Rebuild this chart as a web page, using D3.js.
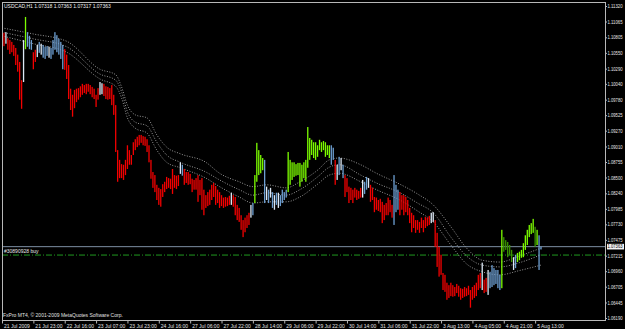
<!DOCTYPE html>
<html><head><meta charset="utf-8">
<script src="https://cdn.jsdelivr.net/npm/d3@7"></script>
<style>html,body{margin:0;padding:0;background:#000;} svg{display:block;}</style>
</head><body><svg id="c" width="625" height="329"></svg>
<script>
const symbolTitle = "USDCAD,H1  1.07318 1.07363 1.07317 1.07363";
const copyright = "FxPro MT4, \u00a9 2001-2009 MetaQuotes Software Corp.";
const timeLabels = ["21 Jul 2009","21 Jul 23:00","22 Jul 16:00","23 Jul 07:00","23 Jul 23:00","24 Jul 16:00","27 Jul 06:00","27 Jul 22:00","28 Jul 14:00","29 Jul 06:00","29 Jul 22:00","30 Jul 14:00","31 Jul 06:00","31 Jul 22:00","3 Aug 13:00","4 Aug 05:00","4 Aug 21:00","5 Aug 13:00"];
const timeLabelBar = [0,16,32,48,64,80,96,112,128,144,160,176,192,208,224,240,256,272];
const priceTicks = [1.11320,1.11065,1.10805,1.10550,1.10290,1.10040,1.09780,1.09525,1.09270,1.09010,1.08755,1.08500,1.08240,1.07985,1.07730,1.07475,1.07215,1.06960,1.06705,1.06445,1.06190];
const highs = [
1.1089,1.1088,1.1089,1.1079,1.1076,1.1073,1.1068,1.1063,1.1052,1.1040,
1.1010,1.1076,1.1114,1.1089,1.1083,1.1076,1.1056,1.1060,1.1068,1.1073,
1.1070,1.1068,1.1065,1.1066,1.1065,1.1063,1.1076,1.1089,1.1084,1.1078,
1.1073,1.1068,1.1061,1.1052,1.1035,1.0996,1.0986,1.0994,1.0996,1.0997,
1.1000,1.1004,1.1002,1.1004,1.1004,1.1002,1.0999,1.0996,1.0986,1.0997,
1.1007,1.1005,1.1004,1.1000,1.0999,1.0997,1.1002,1.0986,1.0969,1.0895,
1.0879,1.0872,1.0871,1.0879,1.0903,1.0895,1.0887,1.0908,1.0913,1.0917,
1.0920,1.0920,1.0918,1.0917,1.0913,1.0903,1.0879,1.0859,1.0854,1.0838,
1.0833,1.0831,1.0839,1.0843,1.0851,1.0849,1.0848,1.0864,1.0854,1.0853,
1.0854,1.0875,1.0871,1.0864,1.0859,1.0859,1.0856,1.0848,1.0846,1.0849,
1.0854,1.0846,1.0849,1.0830,1.0821,1.0826,1.0830,1.0838,1.0841,1.0836,
1.0830,1.0826,1.0821,1.0817,1.0818,1.0817,1.0820,1.0825,1.0821,1.0818,
1.0805,1.0800,1.0788,1.0780,1.0784,1.0788,1.0792,1.0805,1.0808,1.0854,
1.0907,1.0895,1.0887,1.0882,1.0879,1.0835,1.0830,1.0833,1.0826,1.0821,
1.0825,1.0825,1.0821,1.0830,1.0826,1.0830,1.0892,1.0879,1.0875,1.0875,
1.0872,1.0874,1.0874,1.0871,1.0875,1.0879,1.0933,1.0915,1.0912,1.0908,
1.0908,1.0903,1.0912,1.0908,1.0910,1.0908,1.0903,1.0903,1.0903,1.0899,
1.0879,1.0871,1.0884,1.0882,1.0871,1.0854,1.0849,1.0835,1.0833,1.0830,
1.0833,1.0830,1.0828,1.0833,1.0846,1.0843,1.0851,1.0849,1.0838,1.0833,
1.0818,1.0817,1.0813,1.0815,1.0810,1.0805,1.0808,1.0817,1.0813,1.0805,
1.0854,1.0838,1.0830,1.0826,1.0821,1.0821,1.0818,1.0813,1.0800,1.0792,
1.0788,1.0780,1.0780,1.0777,1.0784,1.0780,1.0785,1.0784,1.0787,1.0792,
1.0793,1.0780,1.0759,1.0736,1.0723,1.0693,1.0690,1.0677,1.0673,1.0677,
1.0673,1.0670,1.0675,1.0672,1.0668,1.0667,1.0670,1.0668,1.0672,1.0665,
1.0670,1.0673,1.0677,1.0690,1.0693,1.0710,1.0682,1.0685,1.0698,1.0695,
1.0706,1.0701,1.0698,1.0698,1.0690,1.0764,1.0752,1.0747,1.0744,1.0739,
1.0731,1.0719,1.0723,1.0726,1.0728,1.0731,1.0742,1.0755,1.0764,1.0772,
1.0775,1.0782,1.0769,1.0764,1.0755,1.07363];
const lows = [
1.1068,1.1066,1.1070,1.1060,1.1053,1.1056,1.1050,1.1035,1.1024,1.0978,
1.0963,1.1007,1.1061,1.1065,1.1061,1.1060,1.1028,1.1040,1.1048,1.1055,
1.1052,1.1047,1.1045,1.1050,1.1047,1.1045,1.1052,1.1060,1.1056,1.1052,
1.1045,1.1028,1.1027,1.1012,1.0979,1.0961,1.0950,1.0964,1.0974,1.0978,
1.0982,1.0986,1.0989,1.0987,1.0991,1.0987,1.0982,1.0979,1.0966,1.0978,
1.0986,1.0987,1.0984,1.0979,1.0978,1.0979,1.0969,1.0953,1.0892,1.0843,
1.0849,1.0849,1.0846,1.0854,1.0864,1.0871,1.0871,1.0887,1.0895,1.0900,
1.0903,1.0907,1.0903,1.0902,1.0892,1.0875,1.0848,1.0833,1.0826,1.0813,
1.0805,1.0802,1.0818,1.0826,1.0831,1.0833,1.0831,1.0823,1.0833,1.0831,
1.0836,1.0856,1.0853,1.0838,1.0841,1.0838,1.0839,1.0826,1.0830,1.0830,
1.0810,1.0821,1.0797,1.0788,1.0800,1.0803,1.0805,1.0813,1.0818,1.0805,
1.0808,1.0800,1.0803,1.0800,1.0802,1.0803,1.0805,1.0805,1.0802,1.0788,
1.0780,1.0777,1.0764,1.0752,1.0760,1.0767,1.0772,1.0784,1.0788,1.0808,
1.0843,1.0854,1.0857,1.0862,1.0808,1.0813,1.0808,1.0817,1.0800,1.0797,
1.0805,1.0800,1.0803,1.0808,1.0813,1.0817,1.0826,1.0838,1.0846,1.0851,
1.0853,1.0854,1.0835,1.0843,1.0849,1.0843,1.0866,1.0879,1.0887,1.0882,
1.0879,1.0884,1.0895,1.0892,1.0895,1.0884,1.0887,1.0882,1.0871,1.0879,
1.0838,1.0846,1.0854,1.0862,1.0849,1.0818,1.0826,1.0808,1.0813,1.0808,
1.0817,1.0813,1.0815,1.0817,1.0817,1.0823,1.0830,1.0833,1.0810,1.0813,
1.0793,1.0797,1.0795,1.0793,1.0775,1.0780,1.0788,1.0788,1.0793,1.0784,
1.0772,1.0793,1.0797,1.0788,1.0797,1.0788,1.0793,1.0788,1.0775,1.0760,
1.0767,1.0759,1.0764,1.0759,1.0767,1.0760,1.0767,1.0770,1.0772,1.0775,
1.0777,1.0736,1.0703,1.0687,1.0690,1.0665,1.0662,1.0649,1.0652,1.0655,
1.0654,1.0655,1.0660,1.0654,1.0649,1.0652,1.0654,1.0655,1.0657,1.0636,
1.0649,1.0652,1.0655,1.0665,1.0668,1.0665,1.0660,1.0662,1.0657,1.0668,
1.0670,1.0673,1.0675,1.0668,1.0665,1.0668,1.0728,1.0731,1.0719,1.0723,
1.0711,1.0698,1.0701,1.0711,1.0714,1.0718,1.0719,1.0731,1.0739,1.0752,
1.0757,1.0759,1.0736,1.0739,1.0698,1.07317];
// r = bearish red, b = light blue, w = white/pale, g = bright green, d = dark green
const barColorCodes = [
"wrwrrrrrrr","rwgbbbrrwb","wbbbwbbbbb","bbrrrrrrrr","rrrrrrrrrr",
"wwrrrrrrrr","rrrrrrrrrr","rrrrrrrrrr","rrrrrrrrrr","rwbrrrrrrr",
"rrrrrrrrrr","rrrrrrrwrr","rrrrrrrwbg","ggggbwbwbw","bwbbbbgggg",
"gggggggggg","ggggggggbb","rwbwbrrrrr","rrrrwbbwrr","rrrrrrrrrr",
"bbbrrrrrrr","rrrrrrrrrw","wrrrrrrrrr","rrrrrrrrrr","rrrrrwrrwb",
"bbbbbgdddd","dwbggggggg","ggdgbb"].join("");
// envelope / moving-average lines (read at sampled bars)
const maIdx   = [0,16,33,50,58,61,64,68,74,79,84,91,104,111,121,128,135,145,152,161,167,172,183,191,203,212,220,229,237,245,254,264,275];
const maUpper = [1.1096,1.1086,1.1074,1.1028,1.1019,1.0999,1.0969,1.0953,1.0948,1.0920,1.0900,1.0889,1.0875,1.0857,1.0843,1.0835,1.0838,1.0833,1.0843,1.0862,1.0879,1.0882,1.0871,1.0857,1.0839,1.0823,1.0805,1.0769,1.0734,1.0714,1.0711,1.0721,1.0734];
const maMid   = [1.1089,1.1078,1.1065,1.1020,1.1010,1.0991,1.0958,1.0941,1.0935,1.0908,1.0887,1.0875,1.0859,1.0846,1.0830,1.0821,1.0825,1.0821,1.0830,1.0851,1.0867,1.0871,1.0854,1.0841,1.0825,1.0808,1.0792,1.0752,1.0721,1.0706,1.0703,1.0710,1.0723];
const maLower = [1.1083,1.1070,1.1056,1.1012,1.1000,1.0981,1.0948,1.0931,1.0923,1.0895,1.0875,1.0866,1.0849,1.0835,1.0818,1.0808,1.0810,1.0810,1.0818,1.0839,1.0854,1.0857,1.0843,1.0830,1.0813,1.0795,1.0777,1.0739,1.0708,1.0695,1.0690,1.0697,1.0706];
const bidPrice = 1.07363;
const orderPrice = 1.07225;
const orderLabel = "#30890928 buy";

const colorMap = {r:"#f20000", b:"#6d9fd2", w:"#dce8f5", g:"#7cfc00", d:"#3a9400"};
const svg = d3.select("#c");
const L = 2, R = 606, T = 2, B = 321;
const x = d3.scaleLinear().domain([0, 308]).range([L, 605.7]);
const y = d3.scaleLinear().domain([1.06190, 1.11320]).range([318, 6]);
const font = "'Liberation Sans', Arial, sans-serif";

svg.append("rect").attr("width",625).attr("height",329).attr("fill","#000");
svg.append("clipPath").attr("id","pc").append("rect")
  .attr("x",L).attr("y",T).attr("width",R-L).attr("height",B-T);
const plot = svg.append("g").attr("clip-path","url(#pc)");

// bid line
plot.append("line").attr("x1",L).attr("x2",R).attr("y1",y(bidPrice)).attr("y2",y(bidPrice))
  .attr("stroke","#7d8fa3").attr("stroke-width",1);
// order line
plot.append("line").attr("x1",L).attr("x2",R).attr("y1",y(orderPrice)).attr("y2",y(orderPrice))
  .attr("stroke","#1f9a1f").attr("stroke-width",1).attr("stroke-dasharray","6,2,1,2");

// envelope lines
const lineGen = arr => d3.line().x((d,i)=>x(maIdx[i])).y(d=>y(d)).curve(d3.curveMonotoneX)(arr);
[maUpper, maMid, maLower].forEach(arr=>{
  plot.append("path").attr("d", lineGen(arr)).attr("fill","none")
    .attr("stroke","#bdbdbd").attr("stroke-width",0.8).attr("stroke-dasharray","1,1.6");
});

// bars
plot.selectAll("rect.bar").data(highs).enter().append("rect").attr("class","bar")
  .attr("x",(d,i)=>x(i)-0.65).attr("width",1.3)
  .attr("y",d=>y(d))
  .attr("height",(d,i)=>Math.max(1, y(lows[i])-y(d)))
  .attr("fill",(d,i)=>colorMap[barColorCodes[i]]);

// frame
svg.append("rect").attr("x",L+0.5).attr("y",T+0.5).attr("width",R-L-1).attr("height",B-T-1)
  .attr("fill","none").attr("stroke","#b8b8b8").attr("stroke-width",1);

// price axis
const yAxis = svg.append("g").attr("transform",`translate(${R-0.5},0)`)
  .call(d3.axisRight(y).tickValues(priceTicks).tickFormat(d3.format(".5f")).tickSize(1.5).tickPadding(0.5));
yAxis.select(".domain").remove();
yAxis.selectAll("line").attr("stroke","#b8b8b8");
yAxis.selectAll("text").attr("fill","#e6e6e6").attr("textLength",15).attr("lengthAdjust","spacingAndGlyphs")
  .style("font-family",font).style("font-size","4.8px");

// current price label
const bg = svg.append("g");
bg.append("rect").attr("x",R+1).attr("y",y(bidPrice)-2.8).attr("width",17).attr("height",5.6).attr("fill","#f4f4f4");
bg.append("text").attr("x",R+1.5).attr("y",y(bidPrice)).attr("dy","0.35em").attr("fill","#000")
  .attr("textLength",15).attr("lengthAdjust","spacingAndGlyphs")
  .style("font-family",font).style("font-size","4.8px").text(d3.format(".5f")(bidPrice));

// time axis
const xAxis = svg.append("g").attr("transform",`translate(0,${B-0.5})`)
  .call(d3.axisBottom(x).tickValues(timeLabelBar).tickFormat((d,i)=>timeLabels[i]).tickSize(3).tickPadding(1));
xAxis.select(".domain").remove();
xAxis.selectAll("line").attr("stroke","#b8b8b8");
xAxis.selectAll("text").attr("fill","#e6e6e6").attr("text-anchor","start").attr("dx","1.5px")
  .style("font-family",font).style("font-size","5px");

// texts
svg.append("text").attr("x",4).attr("y",8).attr("fill","#f0f0f0").style("font-family",font).style("font-size","5px").text(symbolTitle);
svg.append("text").attr("x",4).attr("y",y(orderPrice)-2).attr("fill","#e8e8e8").style("font-family",font).style("font-size","5px").text(orderLabel);
svg.append("text").attr("x",3).attr("y",317).attr("fill","#e0e0e0").style("font-family",font).style("font-size","5px").text(copyright);
</script></body></html>
